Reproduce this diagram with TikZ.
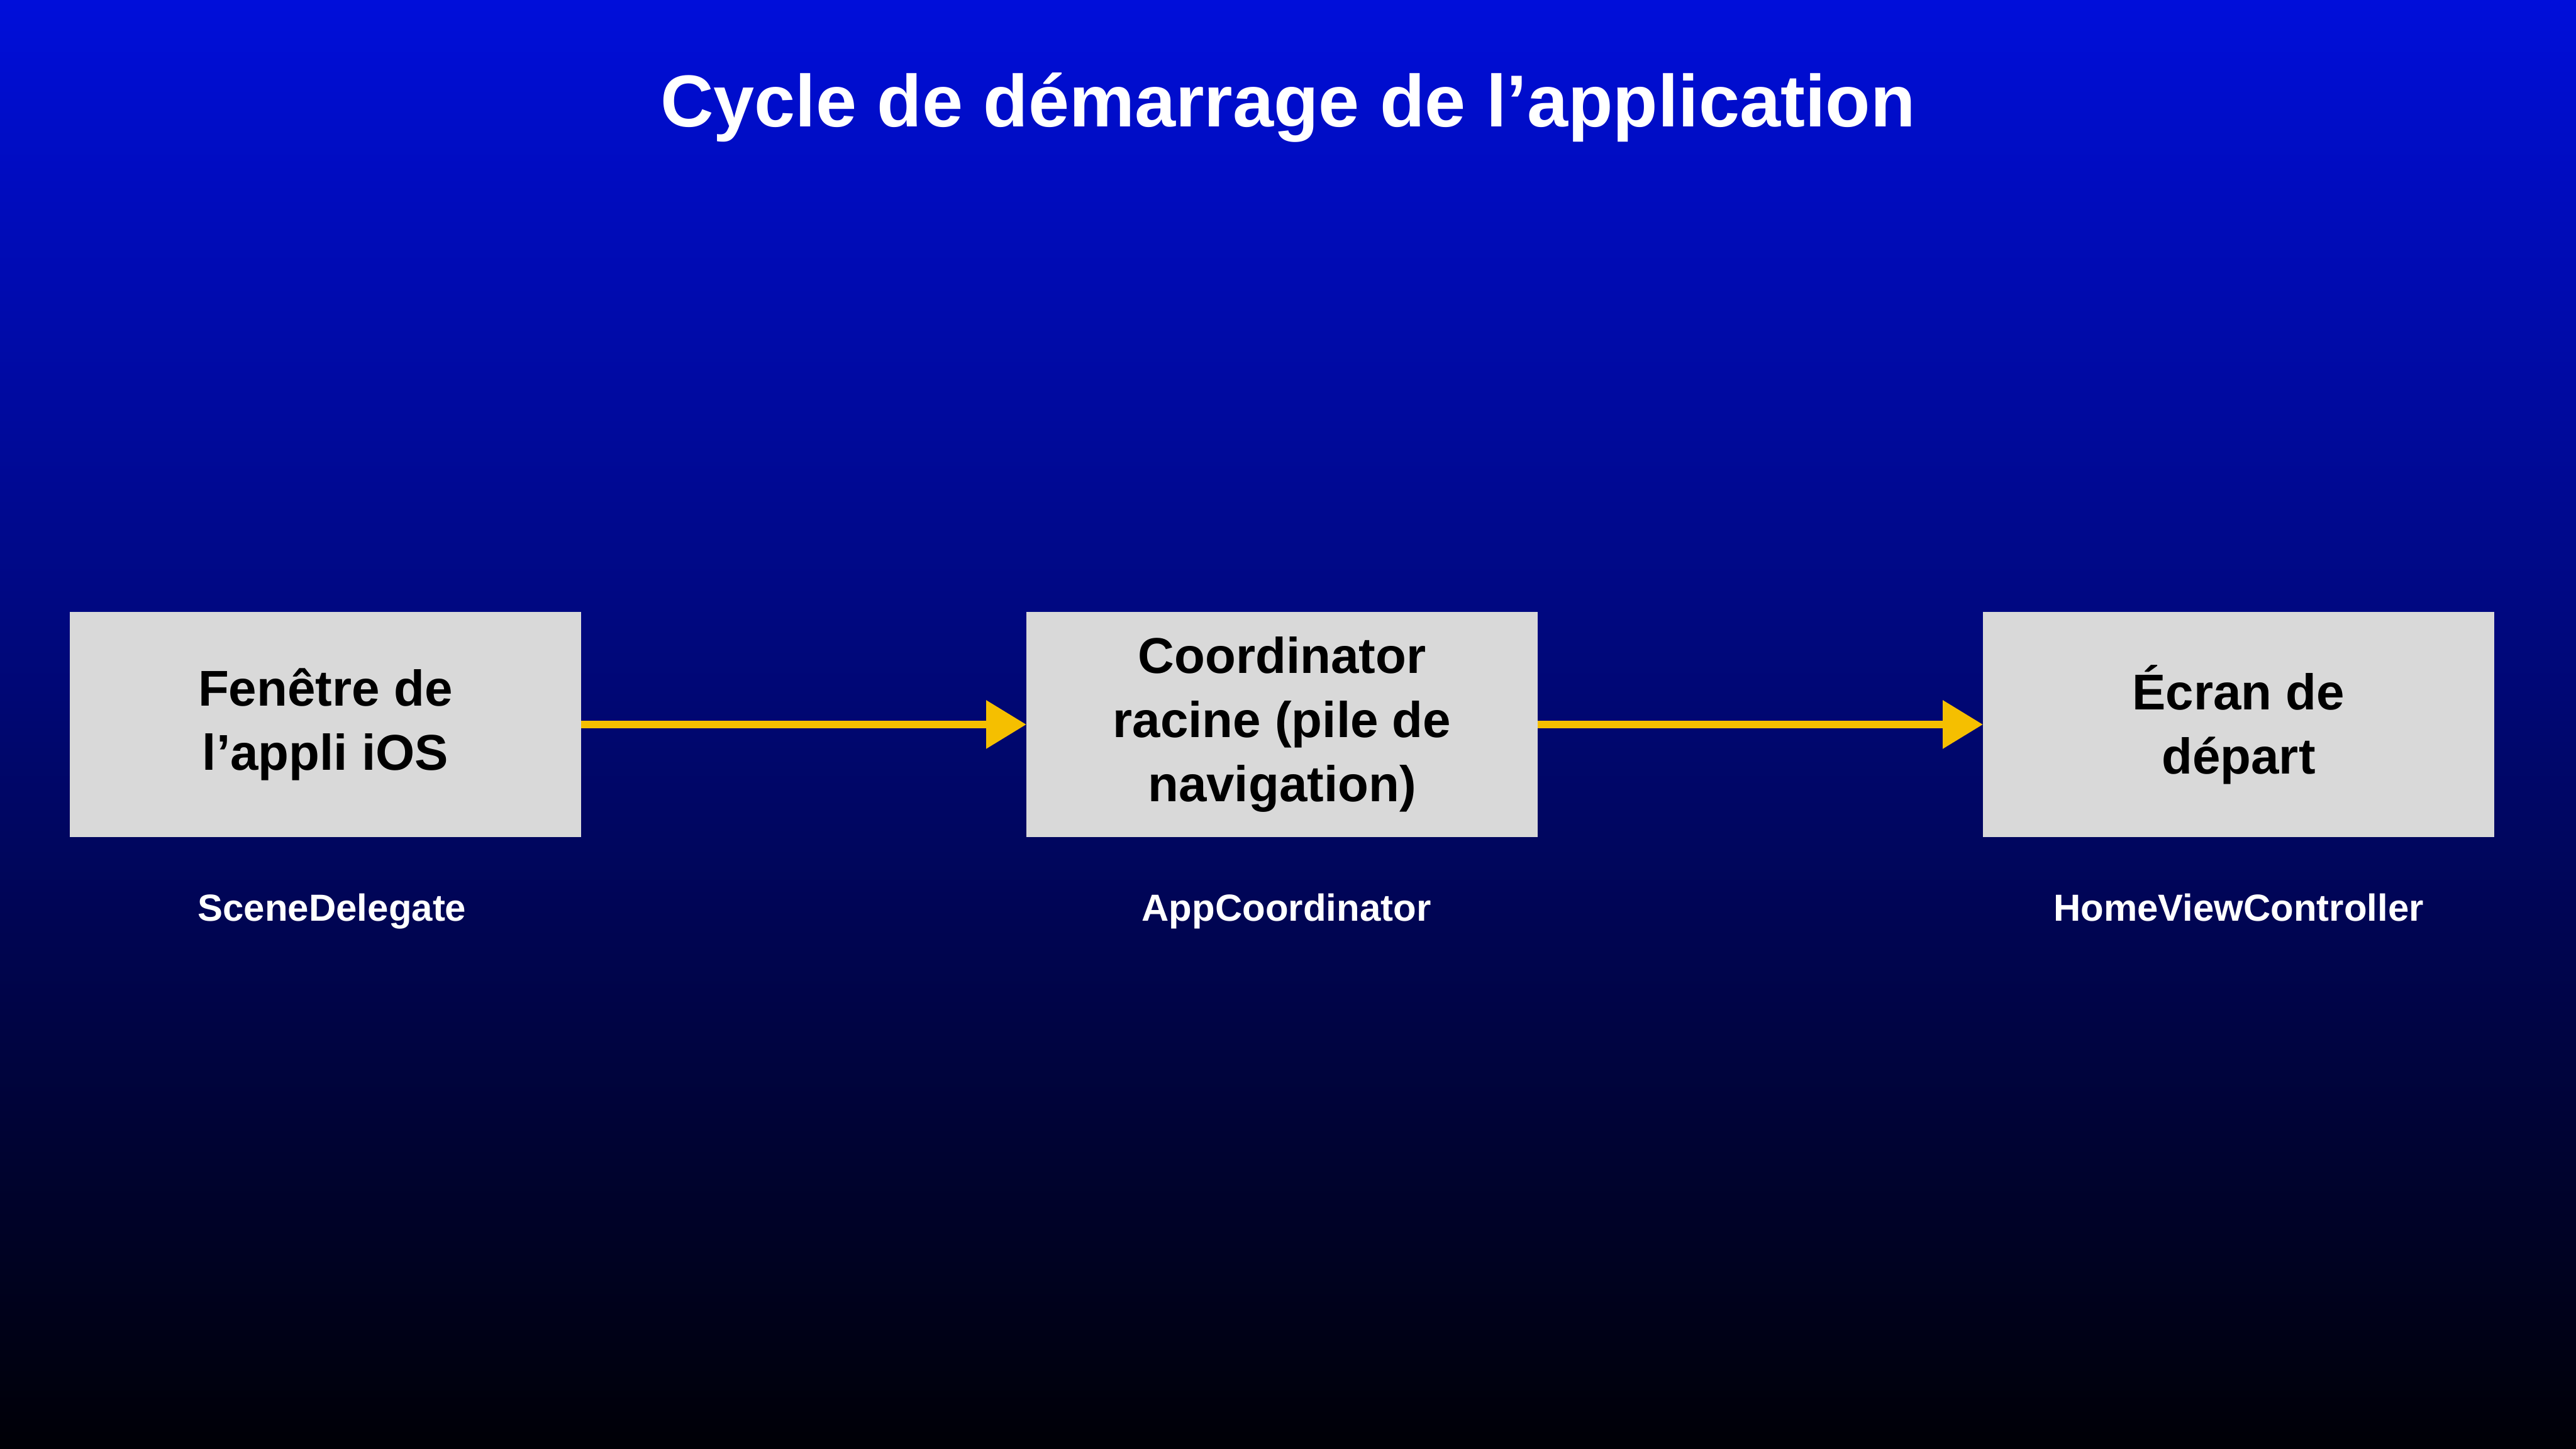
\documentclass[tikz,border=0pt]{standalone}
\usepackage{fontspec}
\setmainfont{Liberation Sans}
\usetikzlibrary{positioning,arrows.meta}
\definecolor{bleuhaut}{RGB}{0,14,218}
\definecolor{noirbas}{RGB}{0,0,6}
\definecolor{gris}{RGB}{217,217,217}
\definecolor{jaune}{RGB}{245,191,0}
\begin{document}
\begin{tikzpicture}[x=1.0cm, y=1.0cm,
  boite/.style={fill=gris, minimum width=11.43cm, minimum height=5.04cm, inner sep=0pt, outer sep=0pt, align=center, font=\fontsize{32}{40.8}\selectfont\bfseries},
  nom/.style={text=white, font=\fontsize{24}{29}\selectfont\bfseries},
  fleche/.style={-{Triangle[length=0.9cm,width=1.04cm]}, line width=0.18cm, draw=jaune}]
\shade[top color=bleuhaut, bottom color=noirbas] (0,0) rectangle (57.6,32.4);
\useasboundingbox (0,0) rectangle (57.6,32.4);
\node[text=white, anchor=base, font=\fontsize{46.8}{56}\selectfont\bfseries] (titre) at (28.8,29.57) {Cycle de démarrage de l’application};
\node[boite] (fenetre) at (7.275,16.2) {Fenêtre de\\l’appli iOS};
\node[boite] (racine) at (28.665,16.2) {Coordinator\\racine (pile de\\navigation)};
\node[boite] (ecran) at (50.055,16.2) {Écran de\\départ};
\node[nom, below=1.88cm of fenetre.south, anchor=base, xshift=0.15cm] (scene) {SceneDelegate};
\node[nom, below=1.88cm of racine.south, anchor=base, xshift=0.1cm] (appcoord) {AppCoordinator};
\node[nom, below=1.88cm of ecran.south, anchor=base] (home) {HomeViewController};
\draw[fleche] (fenetre) -- (racine);
\draw[fleche] (racine) -- (ecran);
\end{tikzpicture}
\end{document}
